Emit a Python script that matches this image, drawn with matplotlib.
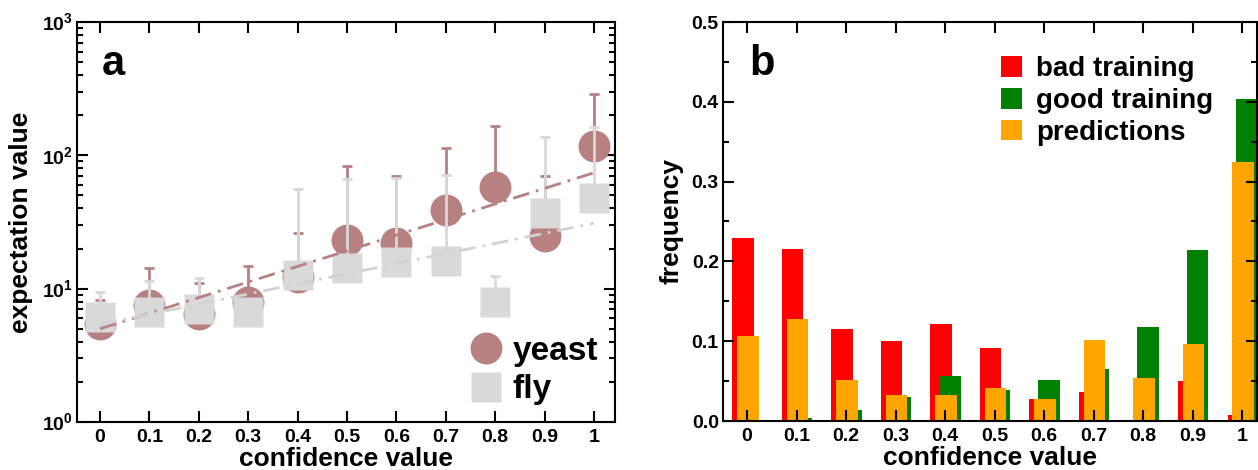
import matplotlib
matplotlib.use("Agg")
import matplotlib.pyplot as plt
import numpy as np

plt.rcParams['font.family'] = ['Liberation Sans', 'DejaVu Sans']
plt.rcParams['font.weight'] = 'bold'
plt.rcParams['mathtext.fontset'] = 'custom'
plt.rcParams['mathtext.rm'] = 'Liberation Sans:bold'
plt.rcParams['mathtext.bf'] = 'Liberation Sans:bold'
plt.rcParams['lines.scale_dashes'] = False

# panel a: expectation values vs confidence
conf = [0, 0.1, 0.2, 0.3, 0.4, 0.5, 0.6, 0.7, 0.8, 0.9, 1.0]
yeast = [5.4, 7.5, 6.5, 7.9, 12.2, 23.0, 22.0, 39.0, 58.0, 25.0, 117.0]
yeast_up = [8.2, 14.2, 11.0, 14.8, 26.0, 83.0, 70.0, 114.0, 166.0, 70.0, 288.0]
fly = [6.1, 6.7, 7.0, 6.7, 12.6, 14.4, 15.8, 16.1, 7.9, 36.7, 47.9]
fly_up = [9.5, 11.4, 12.0, 8.0, 56.0, 66.5, 68.0, 71.0, 12.4, 137.0, 164.0]
fit_x = [0, 1.0]
yeast_fit = [5.0, 74.0]
fly_fit = [5.4, 31.0]

# panel b: frequency histograms
bad_training = [0.229, 0.215, 0.115, 0.100, 0.121, 0.092, 0.028, 0.036, 0.0, 0.050, 0.007]
good_training = [0.0, 0.004, 0.014, 0.030, 0.057, 0.039, 0.051, 0.065, 0.118, 0.214, 0.403]
predictions = [0.107, 0.128, 0.051, 0.032, 0.033, 0.041, 0.027, 0.101, 0.054, 0.097, 0.324]
xlabels = ['0', '0.1', '0.2', '0.3', '0.4', '0.5', '0.6', '0.7', '0.8', '0.9', '1']

brown = '#b78181'
gray = '#d9d9d9'
gray_line = '#d2d2d2'

fig = plt.figure(figsize=(12.58, 4.70), dpi=100)
ax1 = fig.add_axes([77/1258, 1-422/470, (615-77)/1258, 400/470])
ax2 = fig.add_axes([723/1258, 1-421/470, (1257-723)/1258, 399/470])

def style(ax):
    for s in ax.spines.values():
        s.set_linewidth(1.5)
    ax.tick_params(which='both', direction='in', top=True, right=True, width=1.5, labelsize=14)
    ax.tick_params(which='major', length=8)
    ax.tick_params(which='minor', length=4)
    ax.tick_params(axis='x', pad=5)
    ax.tick_params(axis='y', pad=3)

# --- panel a
x = np.array(conf)
y = np.array(yeast)
ax1.errorbar(x, y, yerr=[np.zeros_like(y), np.array(yeast_up) - y], fmt='none',
             ecolor=brown, elinewidth=2, capsize=3.5, capthick=2, zorder=2)
ax1.plot(x, y, 'o', ms=23, color=brown, mec='none', zorder=3, label='yeast')
yf = np.array(fly)
ax1.errorbar(x, yf, yerr=[np.zeros_like(yf), np.array(fly_up) - yf], fmt='none',
             ecolor=gray, elinewidth=2, capsize=3.5, capthick=2, zorder=4)
ax1.plot(x, yf, 's', ms=21, color=gray, mec='none', zorder=5, label='fly')
ax1.plot(fit_x, yeast_fit, color=brown, lw=2, dashes=(12, 5, 2, 5), zorder=6)
ax1.plot(fit_x, fly_fit, color=gray_line, lw=2, dashes=(12, 5, 2, 5), zorder=6)

ax1.set_yscale('log')
ax1.set_ylim(1, 1000)
ax1.set_xlim(-0.0466, 1.0425)
ax1.set_xticks(conf)
ax1.set_xticklabels(xlabels)
ax1.set_yticks([1, 10, 100, 1000])
ax1.set_yticklabels([r'$10^{0}$', r'$10^{1}$', r'$10^{2}$', r'$10^{3}$'])
style(ax1)
ax1.set_xlabel('confidence value', fontsize=19, fontweight='bold', labelpad=1)
ax1.set_ylabel('expectation value', fontsize=19, fontweight='bold', labelpad=6)
ax1.text(0.046, 0.895, 'a', transform=ax1.transAxes, fontsize=30, fontweight='bold', va='center')
ax1.legend(loc='lower right', bbox_to_anchor=(1.0, 0.0), frameon=False, fontsize=24,
           numpoints=1, handlelength=1.0, handletextpad=0.3, labelspacing=0.23,
           borderaxespad=0.1)

# --- panel b
w = 0.043
ax2.bar(x - 0.008, bad_training, width=w, color='#ff0000', label='bad training', zorder=1)
ax2.bar(x + 0.010, good_training, width=w, color='#008000', label='good training', zorder=1.1)
ax2.bar(x + 0.002, predictions, width=w, color='#ffa500', label='predictions', zorder=1.2)
ax2.set_xlim(-0.0485, 1.030)
ax2.set_ylim(0, 0.5)
ax2.set_xticks(conf)
ax2.set_xticklabels(xlabels)
ax2.set_yticks([0, 0.1, 0.2, 0.3, 0.4, 0.5])
ax2.set_yticklabels(['0.0', '0.1', '0.2', '0.3', '0.4', '0.5'])
ax2.set_yticks(np.arange(0.05, 0.5, 0.1), minor=True)
style(ax2)
ax2.set_xlabel('confidence value', fontsize=19, fontweight='bold', labelpad=1)
ax2.set_ylabel('frequency', fontsize=19, fontweight='bold', labelpad=6)
ax2.text(0.05, 0.895, 'b', transform=ax2.transAxes, fontsize=30, fontweight='bold', va='center')
ax2.legend(loc='upper left', bbox_to_anchor=(0.5, 0.942), frameon=False, fontsize=20,
           handlelength=0.75, handleheight=0.75, handletextpad=0.5, labelspacing=0.21,
           borderaxespad=0.0)

fig.savefig('out.png', dpi=100)
